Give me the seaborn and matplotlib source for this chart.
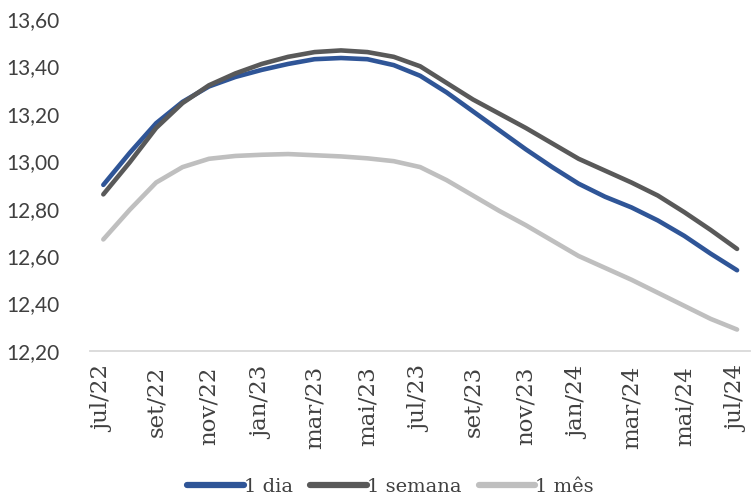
import numpy as np
import pandas as pd
import seaborn as sns
import matplotlib.pyplot as plt
from matplotlib.ticker import FuncFormatter

# meses (mensal), rótulos a cada 2 meses
meses = ["jul/22", "ago/22", "set/22", "out/22", "nov/22", "dez/22", "jan/23", "fev/23",
         "mar/23", "abr/23", "mai/23", "jun/23", "jul/23", "ago/23", "set/23", "out/23",
         "nov/23", "dez/23", "jan/24", "fev/24", "mar/24", "abr/24", "mai/24", "jun/24", "jul/24"]

um_dia = [12.90, 13.035, 13.16, 13.25, 13.315, 13.355, 13.385, 13.41, 13.43, 13.435, 13.43, 13.405,
          13.36, 13.29, 13.21, 13.13, 13.05, 12.975, 12.905, 12.85, 12.805, 12.75, 12.685, 12.61, 12.54]
uma_semana = [12.86, 12.995, 13.14, 13.245, 13.32, 13.37, 13.41, 13.44, 13.46, 13.467, 13.46, 13.44,
              13.40, 13.33, 13.26, 13.2, 13.14, 13.075, 13.01, 12.96, 12.91, 12.855, 12.785, 12.71, 12.63]
um_mes = [12.67, 12.795, 12.91, 12.975, 13.01, 13.022, 13.027, 13.03, 13.025, 13.02, 13.012, 13.0,
          12.975, 12.92, 12.855, 12.79, 12.73, 12.665, 12.6, 12.55, 12.50, 12.445, 12.39, 12.335, 12.29]

series = ["1 dia", "1 semana", "1 mês"]
cores = ["#2F5597", "#595959", "#BFBFBF"]

df = pd.DataFrame({
    "pos": list(range(len(meses))) * 3,
    "valor": um_dia + uma_semana + um_mes,
    "serie": [series[0]] * len(meses) + [series[1]] * len(meses) + [series[2]] * len(meses),
})

sns.set_style("white")
fig, ax = plt.subplots(figsize=(7.51, 4.97), dpi=100)
fig.subplots_adjust(left=0.12, right=0.999, bottom=0.294, top=0.962)

sns.lineplot(data=df, x="pos", y="valor", hue="serie", palette=cores, hue_order=series,
             linewidth=3.3, ax=ax, legend=False, solid_capstyle="round", solid_joinstyle="round")

ax.set_xlim(-0.5, len(meses) - 0.5)
ax.set_ylim(12.2, 13.6)
ax.set_yticks(np.arange(12.2, 13.61, 0.2))
ax.yaxis.set_major_formatter(FuncFormatter(lambda v, p: f"{v:.2f}".replace(".", ",")))
ax.set_xticks(range(0, len(meses), 2))
ax.set_xticklabels(meses[::2], rotation=90, family="DejaVu Serif", fontsize=16.5, color="#404040")
for t in ax.get_yticklabels():
    t.set_family("Lato")
    t.set_fontsize(15)
    t.set_color("#404040")
ax.tick_params(axis="y", length=0, pad=22)
ax.tick_params(axis="x", length=0, pad=11)
ax.set_xlabel("")
ax.set_ylabel("")
for s in ["top", "right", "left"]:
    ax.spines[s].set_visible(False)
ax.spines["bottom"].set_color("#D9D9D9")
ax.spines["bottom"].set_linewidth(1.3)

handles = [plt.Line2D([], [], color=c, linewidth=4.5) for c in cores]
ax.legend(handles, series, loc="lower center", bbox_to_anchor=(0.455, -0.49), ncol=3,
          frameon=False, handlelength=2.9, handletextpad=0.0, columnspacing=0.9,
          prop={"family": "DejaVu Serif", "size": 14}, labelcolor="#404040")

fig.savefig("out.png", dpi=100)
